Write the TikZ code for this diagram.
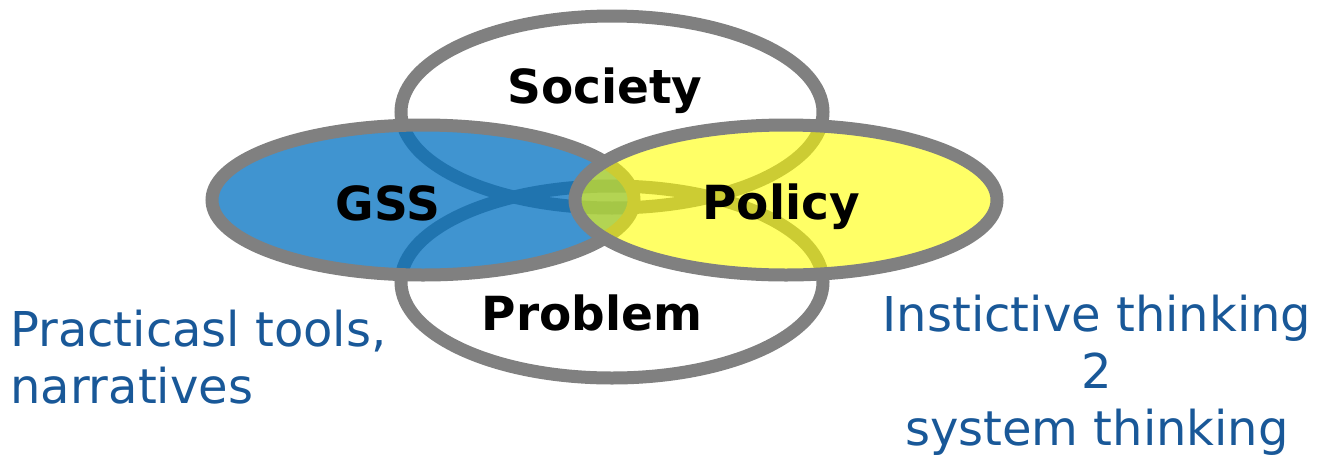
\documentclass[tikz,border=0pt]{standalone}
\usepackage{fontspec}
\setmainfont{DejaVu Sans}
\definecolor{ringblue}{RGB}{0,112,192}
\definecolor{ringyellow}{RGB}{255,255,0}
\definecolor{ringgray}{RGB}{128,128,128}
\definecolor{notecol}{RGB}{25,88,152}
\begin{document}
\begin{tikzpicture}[x=1pt, y=-1pt,
		ring/.style = {draw=ringgray, line width=13pt},
		title/.style = {font=\fontsize{47}{56}\selectfont\bfseries, inner sep=0pt, anchor=base},
		note/.style = {font=\fontsize{48}{57}\selectfont, text=notecol, inner sep=0pt}]
		\useasboundingbox (0,0) rectangle (1318,456);
		% Renkaat
		\draw[ring] (612,112) ellipse [x radius=211pt, y radius=96pt];	% Society
		\draw[ring] (612,282) ellipse [x radius=211pt, y radius=96pt];	% Problem
		\draw[ring, fill=ringblue, fill opacity=0.75] (423,200) ellipse [x radius=211pt, y radius=75pt];	% GSS
		\draw[ring, fill=ringyellow, fill opacity=0.6] (786,200) ellipse [x radius=211pt, y radius=75pt];	% Policy
		% Otsikot
		\node[title] (society) at (605,103) {Society};
		\node[title] (problem) at (592,330) {Problem};
		\node[title] (gss) at (388,220) {GSS};
		\node[title] (policy) at (781,219) {Policy};
		% Huomiot
		\node[note, anchor=north west, align=left] (tools) at (10,310) {Practicasl tools,\\narratives};
		\node[note, anchor=north, align=center] (thinking) at (1097,295) {Instictive thinking\\2\\system thinking};
\end{tikzpicture}
\end{document}
